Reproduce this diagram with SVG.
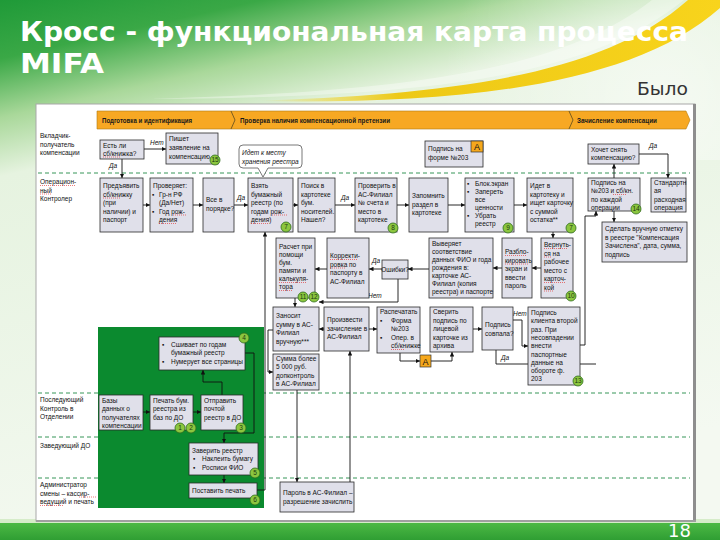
<svg xmlns="http://www.w3.org/2000/svg" width="720" height="540" viewBox="0 0 720 540">
<defs>
<style>
.t{font-family:"Liberation Sans",Arial,sans-serif;font-size:6.5px;fill:#111}
.ti{font-family:"Liberation Sans",Arial,sans-serif;font-size:6.5px;fill:#111;font-style:italic}
.hd{font-family:"Liberation Sans",Arial,sans-serif;font-size:6.3px;fill:#1a1a1a;font-weight:bold}
.b{fill:#e0e0ea;stroke:#2a2a2a;stroke-width:0.8}
.c{fill:none;stroke:#111;stroke-width:0.9}
.ca{fill:none;stroke:#111;stroke-width:0.9;marker-end:url(#ar)}
.lane{stroke:#1f8a45;stroke-width:0.9;stroke-dasharray:4 3}
.bd{fill:#8cc63f;stroke:#2f6d1c;stroke-width:0.8}
.bn{font-family:"Liberation Sans",Arial,sans-serif;font-size:6.5px;fill:#1a3a10;text-anchor:middle}
.ab{fill:#f6a81c;stroke:#333;stroke-width:0.7}
.sq{fill:none;stroke:#e02020;stroke-width:0.6;stroke-dasharray:1 1}
</style>
<marker id="ar" viewBox="0 0 6 6" refX="6" refY="3" markerWidth="4.5" markerHeight="4.5" orient="auto" markerUnits="userSpaceOnUse"><path d="M0,0 L6,3 L0,6 z" fill="#111"/></marker>
<linearGradient id="bg" x1="0" y1="0" x2="0.3" y2="1">
<stop offset="0" stop-color="#1f9a38"/>
<stop offset="0.1" stop-color="#3aa846"/>
<stop offset="0.2" stop-color="#a9d89a"/>
<stop offset="0.3" stop-color="#e6f3e0"/>
<stop offset="1" stop-color="#f4f9f1"/>
</linearGradient>
<radialGradient id="glow" cx="660" cy="100" r="220" gradientUnits="userSpaceOnUse">
<stop offset="0" stop-color="#ffffff" stop-opacity="0.55"/>
<stop offset="1" stop-color="#ffffff" stop-opacity="0"/>
</radialGradient>
<linearGradient id="yel" x1="260" y1="0" x2="720" y2="0" gradientUnits="userSpaceOnUse">
<stop offset="0" stop-color="#f2d000" stop-opacity="0"/>
<stop offset="0.3" stop-color="#eec400" stop-opacity="0.9"/>
<stop offset="1" stop-color="#f8d41c"/>
</linearGradient>
<linearGradient id="bar" x1="0" y1="0" x2="0" y2="1">
<stop offset="0" stop-color="#4cb944"/>
<stop offset="1" stop-color="#2f9e33"/>
</linearGradient>
</defs>

<!-- slide background -->
<rect x="0" y="0" width="720" height="540" fill="url(#bg)"/>
<rect x="0" y="0" width="720" height="160" fill="url(#glow)"/>
<path d="M150 99 C400 92 560 72 652 0 L684 0 C585 80 420 97 150 99 Z" fill="#ffffff" opacity="0.35"/>
<path d="M250 101 C440 95 600 78 688 0 L720 0 L720 8 C630 88 450 105 250 101 Z" fill="url(#yel)"/>
<rect x="0" y="519" width="720" height="4" fill="#d6ecc9"/>
<rect x="0" y="523" width="720" height="17" fill="url(#bar)"/>

<text x="20" y="41" font-family="DejaVu Sans,Verdana,sans-serif" font-size="27" font-weight="bold" fill="#ffffff" textLength="668" lengthAdjust="spacingAndGlyphs">Кросс - функциональная карта процесса</text>
<text x="20" y="73" font-family="DejaVu Sans,Verdana,sans-serif" font-size="27" font-weight="bold" fill="#ffffff" textLength="84" lengthAdjust="spacingAndGlyphs">MIFA</text>
<text x="637" y="95" font-family="DejaVu Sans,Verdana,sans-serif" font-size="17" fill="#333333" textLength="51" lengthAdjust="spacingAndGlyphs">Было</text>
<text x="668" y="537" font-family="DejaVu Sans,Verdana,sans-serif" font-size="18" fill="#ffffff">18</text>

<!-- frame -->
<rect x="36" y="104" width="659" height="417" fill="#ffffff" stroke="#a8a8a8" stroke-width="1"/>
<rect x="693" y="104" width="3" height="418" fill="#8e8e8e"/>
<rect x="36" y="520" width="660" height="2" fill="#a0a0a0"/>

<!-- header bar -->
<g id="header">
<path d="M97 111 H686 L690 120 L686 129 H97 Z" fill="#f7a823" stroke="#b07a10" stroke-width="0.6"/>
<path d="M231 111 L235 120 L231 129" fill="none" stroke="#5a4a20" stroke-width="0.8"/>
<path d="M569 111 L573 120 L569 129" fill="none" stroke="#5a4a20" stroke-width="0.8"/>
<text class="hd" x="102" y="122.5" textLength="90" lengthAdjust="spacingAndGlyphs">Подготовка и идентификация</text>
<text class="hd" x="240" y="122.5" textLength="150" lengthAdjust="spacingAndGlyphs">Проверка наличия компенсационной претензии</text>
<text class="hd" x="577" y="122.5" textLength="80" lengthAdjust="spacingAndGlyphs">Зачисление компенсации</text>
</g>

<!-- lanes -->
<g id="lanes">
<line class="lane" x1="38" y1="173" x2="690" y2="173"/>
<line class="lane" x1="38" y1="393" x2="690" y2="393"/>
<line class="lane" x1="38" y1="437" x2="690" y2="437"/>
<line class="lane" x1="38" y1="478" x2="690" y2="478"/>
<text class="t"><tspan x="40" y="138">Вкладчик-</tspan><tspan x="40" y="146.5">получатель</tspan><tspan x="40" y="155">компенсации</tspan></text>
<text class="t"><tspan x="40" y="184">Операцион-</tspan><tspan x="40" y="192.5">ный</tspan><tspan x="40" y="201">Контролер</tspan></text>
<path class="sq" d="M40 185.5 H75 M40 194 H52"/>
<text class="t"><tspan x="40" y="402">Последующий</tspan><tspan x="40" y="410.5">Контроль в</tspan><tspan x="40" y="419">Отделении</tspan></text>
<text class="t"><tspan x="40" y="448">Заведующий ДО</tspan></text>
<text class="t"><tspan x="40" y="487">Администратор</tspan><tspan x="40" y="495.5">смены – кассир-</tspan><tspan x="40" y="504">ведущий и печать</tspan></text>
<path class="sq" d="M79 497 H96 M40 505.5 H63"/>
</g>

<rect id="green-zone" x="98" y="327" width="166" height="181" fill="#0b8a2f"/>

<!-- connectors -->
<g id="connectors">
<path class="ca" d="M144 149 H166"/>
<text class="ti" x="150" y="145">Нет</text>
<path class="ca" d="M122 159 V178"/>
<text class="ti" x="109" y="168">Да</text>
<path class="ca" d="M143 205 H150"/>
<path class="ca" d="M193 205 H203"/>
<path class="ca" d="M234 205 H248"/>
<text class="ti" x="237" y="200">Да</text>
<path class="ca" d="M293 205 H298"/>
<path class="ca" d="M335 205 H355"/>
<text class="ti" x="341" y="200">Да</text>
<path class="ca" d="M397 205 H409"/>
<path class="ca" d="M448 205 H465"/>
<path class="ca" d="M514 205 H527"/>
<path class="ca" d="M553 232 V238"/>
<path class="ca" d="M541 268 H532"/>
<path class="ca" d="M502 268 H493"/>
<path class="ca" d="M429 269 H408"/>
<path class="ca" d="M382 269 H369"/>
<text class="ti" x="372" y="263">Да</text>
<path class="ca" d="M327 269 H315"/>
<path class="ca" d="M398 279 V302 H319"/>
<text class="ti" x="368" y="298">Нет</text>
<path class="ca" d="M295 298 V307"/>
<path class="ca" d="M324 329 H319"/>
<path class="ca" d="M369 329 H377"/>
<path class="ca" d="M273 330 H268 V372 H273"/>
<path class="ca" d="M297 390 V482"/>
<path class="ca" d="M350 482 V351"/>
<path class="ca" d="M400 353 V361 H420"/>
<path class="ca" d="M431 361 H452 V352"/>
<path class="ca" d="M473 329 H482"/>
<path class="ca" d="M513 320 H522 V346 H528"/>
<text class="ti" x="513" y="316">Нет</text>
<path class="c" d="M496 350 V364 H596"/>
<text class="ti" x="501" y="360">Да</text>
<path class="ca" d="M580 345 H585 V216 H596 V211"/>
<path class="ca" d="M614 178 V164"/>
<path class="ca" d="M614 211 V222"/>
<path class="ca" d="M639 154 H668 V178"/>
<text class="ti" x="649" y="148">Да</text>
<path class="ca" d="M143 412 H150"/>
<path class="ca" d="M193 412 H201"/>
<path class="ca" d="M222 395 V382 H203 V370"/>
<path class="ca" d="M245 353 H254 V433 H224 V443"/>
<path class="ca" d="M224 475 V483"/>
<path class="ca" d="M257 490 H265 V232"/>
</g>

<!-- lane 1 nodes -->
<g id="n1"><rect class="b" x="100" y="140" width="44" height="19"/>
<text class="t"><tspan x="103" y="147.5">Есть ли</tspan><tspan x="103" y="155.5">сб/книжка?</tspan></text>
<path class="sq" d="M103 157 H120"/></g>
<g id="n2"><rect class="b" x="166" y="133" width="52" height="31"/>
<text class="t"><tspan x="169" y="141">Пишет</tspan><tspan x="169" y="150">заявление на</tspan><tspan x="169" y="159">компенсацию</tspan></text>
<circle class="bd" cx="215" cy="160" r="5"/><text class="bn" x="215" y="162.3">15</text></g>
<g id="callout"><path d="M243 145 H298 Q302 145 302 149 V164 Q302 168 298 168 H268 L263 177 L258 168 H243 Q239 168 239 164 V149 Q239 145 243 145 Z" fill="#ffffff" stroke="#555" stroke-width="0.8"/>
<text class="ti"><tspan x="242" y="155">Идет к месту</tspan><tspan x="242" y="163.5">хранения реестра</tspan></text></g>
<g id="n4"><rect class="b" x="425" y="141" width="58" height="26"/>
<text class="t"><tspan x="428" y="151">Подпись на</tspan><tspan x="428" y="159.5">форме №203</tspan></text>
<rect class="ab" x="471" y="141" width="12" height="11"/><text x="477" y="150" font-family="Liberation Sans,Arial,sans-serif" font-size="9" text-anchor="middle" fill="#111">А</text></g>
<g id="n5"><rect class="b" x="588" y="144" width="51" height="20"/>
<text class="t"><tspan x="591" y="151.5">Хочет снять</tspan><tspan x="591" y="160">компенсацию?</tspan></text></g>

<!-- lane 2 row 1 -->
<g id="n6"><rect class="b" x="100" y="178" width="43" height="54"/>
<text class="t"><tspan x="103" y="188">Предъявить</tspan><tspan x="103" y="196.5">сб/книжку</tspan><tspan x="103" y="205">(при</tspan><tspan x="103" y="213.5">наличии) и</tspan><tspan x="103" y="222">паспорт</tspan></text>
<path class="sq" d="M103 198 H121"/></g>
<g id="n7"><rect class="b" x="150" y="178" width="43" height="54"/>
<text class="t"><tspan x="153" y="188">Проверяет:</tspan><tspan x="152" y="196.5">▪</tspan><tspan x="159" y="196.5">Гр-н РФ</tspan><tspan x="159" y="205">(Да/Нет)</tspan><tspan x="152" y="213.5">▪</tspan><tspan x="159" y="213.5">Год рож-</tspan><tspan x="159" y="222">дения</tspan></text>
<path class="sq" d="M173 215 H186 M159 223.5 H176"/></g>
<g id="n8"><rect class="b" x="203" y="178" width="31" height="54"/>
<text class="t"><tspan x="206" y="202">Все в</tspan><tspan x="206" y="210.5">порядке?</tspan></text></g>
<g id="n9"><rect class="b" x="248" y="178" width="45" height="54"/>
<text class="t"><tspan x="251" y="188">Взять</tspan><tspan x="251" y="196.5">бумажный</tspan><tspan x="251" y="205">реестр (по</tspan><tspan x="251" y="213.5">годам рож-</tspan><tspan x="251" y="222">дения)</tspan></text>
<path class="sq" d="M272 215 H287 M251 223.5 H268"/>
<circle class="bd" cx="286" cy="227" r="5"/><text class="bn" x="286" y="229.3">7</text></g>
<g id="n10"><rect class="b" x="298" y="178" width="37" height="54"/>
<text class="t"><tspan x="301" y="188">Поиск в</tspan><tspan x="301" y="196.5">картотеке</tspan><tspan x="301" y="205">бум.</tspan><tspan x="301" y="213.5">носителей.</tspan><tspan x="301" y="222">Нашел?</tspan></text></g>
<g id="n11"><rect class="b" x="355" y="178" width="42" height="54"/>
<text class="t"><tspan x="358" y="188">Проверить в</tspan><tspan x="358" y="196.5">АС-Филиал</tspan><tspan x="358" y="205">№ счета и</tspan><tspan x="358" y="213.5">место в</tspan><tspan x="358" y="222">картотеке</tspan></text>
<circle class="bd" cx="393" cy="228" r="5"/><text class="bn" x="393" y="230.3">8</text></g>
<g id="n12"><rect class="b" x="409" y="178" width="39" height="54"/>
<text class="t"><tspan x="412" y="198">Запомнить</tspan><tspan x="412" y="206.5">раздел в</tspan><tspan x="412" y="215">картотеке</tspan></text></g>
<g id="n13"><rect class="b" x="465" y="178" width="49" height="54"/>
<text class="t"><tspan x="467" y="186">▪</tspan><tspan x="475" y="186">Блок.экран</tspan><tspan x="467" y="194">▪</tspan><tspan x="475" y="194">Запереть</tspan><tspan x="475" y="202">все</tspan><tspan x="475" y="210">ценности</tspan><tspan x="467" y="218">▪</tspan><tspan x="475" y="218">Убрать</tspan><tspan x="475" y="226">реестр</tspan></text>
<circle class="bd" cx="508" cy="228" r="5"/><text class="bn" x="508" y="230.3">9</text></g>
<g id="n14"><rect class="b" x="527" y="178" width="46" height="54"/>
<text class="t"><tspan x="530" y="188">Идет в</tspan><tspan x="530" y="196.5">картотеку и</tspan><tspan x="530" y="205">ищет карточку</tspan><tspan x="530" y="213.5">с суммой</tspan><tspan x="530" y="222">остатка**</tspan></text>
<circle class="bd" cx="571" cy="228" r="5"/><text class="bn" x="571" y="230.3">7</text></g>
<g id="n15"><rect class="b" x="588" y="178" width="52" height="33"/>
<text class="t"><tspan x="591" y="184.5">Подпись на</tspan><tspan x="591" y="193">№203 и сб/кн.</tspan><tspan x="591" y="201.5">по каждой</tspan><tspan x="591" y="210">операции</tspan></text>
<path class="sq" d="M613 194.5 H627"/>
<circle class="bd" cx="636" cy="209" r="5"/><text class="bn" x="636" y="211.3">14</text></g>
<g id="n16"><rect class="b" x="651" y="178" width="35" height="34"/>
<text class="t"><tspan x="654" y="184.5">Стандартн</tspan><tspan x="654" y="193">ая</tspan><tspan x="654" y="201.5">расходная</tspan><tspan x="654" y="210">операция</tspan></text></g>
<g id="n17"><rect class="b" x="602" y="222" width="85" height="40"/>
<text class="t"><tspan x="605" y="231">Сделать вручную отметку</tspan><tspan x="605" y="239.5">в реестре "Компенсация</tspan><tspan x="605" y="248">Зачислена", дата, сумма,</tspan><tspan x="605" y="256.5">подпись</tspan></text></g>

<!-- lane 2 row 2 -->
<g id="n18"><rect class="b" x="276" y="238" width="39" height="60"/>
<text class="t"><tspan x="279" y="249">Расчет при</tspan><tspan x="279" y="257">помощи</tspan><tspan x="279" y="265">бум.</tspan><tspan x="279" y="273">памяти и</tspan><tspan x="279" y="281">калькуля-</tspan><tspan x="279" y="289">тора</tspan></text>
<path class="sq" d="M279 282.5 H307 M279 290.5 H292"/>
<circle class="bd" cx="303" cy="297" r="5"/><text class="bn" x="303" y="299.3">11</text>
<circle class="bd" cx="314" cy="297" r="5"/><text class="bn" x="314" y="299.3">12</text></g>
<g id="n19"><rect class="b" x="327" y="238" width="42" height="60"/>
<text class="t"><tspan x="330" y="258">Корректи-</tspan><tspan x="330" y="266.5">ровка по</tspan><tspan x="330" y="275">паспорту в</tspan><tspan x="330" y="283.5">АС-Филиал</tspan></text>
<path class="sq" d="M330 259.5 H358 M330 268 H346"/></g>
<g id="n20"><rect class="b" x="382" y="260" width="26" height="19"/>
<text class="t" x="395" y="272" text-anchor="middle">Ошибки?</text></g>
<g id="n21"><rect class="b" x="429" y="238" width="64" height="60"/>
<text class="t"><tspan x="432" y="246">Выверяет</tspan><tspan x="432" y="254">соответствие</tspan><tspan x="432" y="262">данных ФИО и года</tspan><tspan x="432" y="270">рождения в:</tspan><tspan x="432" y="278">карточке  АС-</tspan><tspan x="432" y="286">Филиал (копия</tspan><tspan x="432" y="294">реестра) и паспорте</tspan></text></g>
<g id="n22"><rect class="b" x="502" y="238" width="30" height="60"/>
<text class="t"><tspan x="505" y="254">Разбло-</tspan><tspan x="505" y="262.5">кировать</tspan><tspan x="505" y="271">экран и</tspan><tspan x="505" y="279.5">ввести</tspan><tspan x="505" y="288">пароль</tspan></text>
<path class="sq" d="M505 255.5 H526 M505 264 H529"/></g>
<g id="n23"><rect class="b" x="541" y="238" width="32" height="60"/>
<text class="t"><tspan x="544" y="247">Вернуть-</tspan><tspan x="544" y="255.5">ся на</tspan><tspan x="544" y="264">рабочее</tspan><tspan x="544" y="272.5">место с</tspan><tspan x="544" y="281">карточ-</tspan><tspan x="544" y="289.5">кой</tspan></text>
<path class="sq" d="M544 248.5 H568 M544 257 H552 M544 282.5 H566 M544 291 H554"/>
<circle class="bd" cx="571" cy="296" r="5"/><text class="bn" x="571" y="298.3">10</text></g>

<!-- lane 2 row 3 -->
<g id="n24"><rect class="b" x="273" y="307" width="46" height="44"/>
<text class="t"><tspan x="276" y="318">Заносит</tspan><tspan x="276" y="326.5">сумму в АС-</tspan><tspan x="276" y="335">Филиал</tspan><tspan x="276" y="343.5">вручную***</tspan></text></g>
<g id="n25"><rect class="b" x="273" y="354" width="46" height="36"/>
<text class="t"><tspan x="276" y="360.5">Сумма более</tspan><tspan x="276" y="369">5 000 руб.</tspan><tspan x="276" y="377.5">допконтроль</tspan><tspan x="276" y="386">в АС-Филиал</tspan></text></g>
<g id="n26"><rect class="b" x="324" y="307" width="45" height="44"/>
<text class="t"><tspan x="327" y="322">Произвести</tspan><tspan x="327" y="330.5">зачисление в</tspan><tspan x="327" y="339">АС-Филиал</tspan></text></g>
<g id="n27"><rect class="b" x="377" y="307" width="43" height="46"/>
<text class="t"><tspan x="380" y="314">Распечатать</tspan><tspan x="380" y="322.5">▪</tspan><tspan x="391" y="322.5">Форма</tspan><tspan x="391" y="331">№203</tspan><tspan x="380" y="339.5">▪</tspan><tspan x="391" y="339.5">Опер. в</tspan><tspan x="391" y="348">сб/книжке</tspan></text>
<path class="sq" d="M391 349.5 H405"/></g>
<g id="n28"><rect class="b" x="430" y="307" width="43" height="45"/>
<text class="t"><tspan x="433" y="314">Сверить</tspan><tspan x="433" y="322.5">подпись по</tspan><tspan x="433" y="331">лицевой</tspan><tspan x="433" y="339.5">карточке из</tspan><tspan x="433" y="348">архива</tspan></text></g>
<g id="n29"><rect class="b" x="482" y="307" width="31" height="43"/>
<text class="t"><tspan x="485" y="327">Подпись</tspan><tspan x="485" y="335.5">совпала?</tspan></text></g>
<g id="n30"><rect class="b" x="528" y="307" width="52" height="78"/>
<text class="t"><tspan x="531" y="315">Подпись</tspan><tspan x="531" y="323.3">клиента второй</tspan><tspan x="531" y="331.6">раз. При</tspan><tspan x="531" y="339.9">несовпадении</tspan><tspan x="531" y="348.2">внести</tspan><tspan x="531" y="356.5">паспортные</tspan><tspan x="531" y="364.8">данные на</tspan><tspan x="531" y="373.1">обороте ф.</tspan><tspan x="531" y="381.4">203</tspan></text>
<circle class="bd" cx="578" cy="381" r="5"/><text class="bn" x="578" y="383.3">13</text></g>
<g id="nA"><rect class="ab" x="420" y="355" width="11" height="12"/><text x="425.5" y="364.5" font-family="Liberation Sans,Arial,sans-serif" font-size="9" text-anchor="middle" fill="#111">А</text></g>

<!-- green zone nodes -->
<g id="n31"><rect class="b" x="159" y="337" width="86" height="33"/>
<text class="t"><tspan x="162" y="346.5">▪</tspan><tspan x="171" y="346.5">Сшивает по годам</tspan><tspan x="171" y="355">бумажный реестр</tspan><tspan x="162" y="363.5">▪</tspan><tspan x="171" y="363.5">Нумерует все страницы</tspan></text>
<circle class="bd" cx="244" cy="338" r="5"/><text class="bn" x="244" y="340.3">4</text></g>
<g id="n32"><rect class="b" x="99" y="395" width="44" height="35"/>
<text class="t"><tspan x="102" y="402.5">Базы</tspan><tspan x="102" y="411">данных о</tspan><tspan x="102" y="419.5">получателях</tspan><tspan x="102" y="428">компенсации</tspan></text></g>
<g id="n33"><rect class="b" x="150" y="395" width="43" height="35"/>
<text class="t"><tspan x="153" y="402.5">Печать бум.</tspan><tspan x="153" y="411">реестра из</tspan><tspan x="153" y="419.5">баз по ДО</tspan></text>
<circle class="bd" cx="180" cy="428" r="5"/><text class="bn" x="180" y="430.3">1</text>
<circle class="bd" cx="191" cy="428" r="5"/><text class="bn" x="191" y="430.3">2</text></g>
<g id="n34"><rect class="b" x="201" y="395" width="42" height="35"/>
<text class="t"><tspan x="204" y="402.5">Отправить</tspan><tspan x="204" y="411">почтой</tspan><tspan x="204" y="419.5">реестр в ДО</tspan></text>
<circle class="bd" cx="241" cy="428" r="5"/><text class="bn" x="241" y="430.3">3</text></g>
<g id="n35"><rect class="b" x="189" y="443" width="69" height="32"/>
<text class="t"><tspan x="192" y="452.5">Заверить реестр</tspan><tspan x="193" y="461">▪</tspan><tspan x="202" y="461">Наклеить бумагу</tspan><tspan x="193" y="469.5">▪</tspan><tspan x="202" y="469.5">Росписи ФИО</tspan></text>
<circle class="bd" cx="255" cy="473" r="5"/><text class="bn" x="255" y="475.3">5</text></g>
<g id="n36"><rect class="b" x="189" y="483" width="68" height="15"/>
<text class="t"><tspan x="192" y="493">Поставить печать</tspan></text>
<circle class="bd" cx="255" cy="500" r="5"/><text class="bn" x="255" y="502.3">6</text></g>
<g id="n37"><rect class="b" x="280" y="482" width="74" height="30"/>
<text class="t"><tspan x="283" y="495">Пароль в АС-Филиал –</tspan><tspan x="283" y="504">разрешение зачислить</tspan></text></g>
</svg>
